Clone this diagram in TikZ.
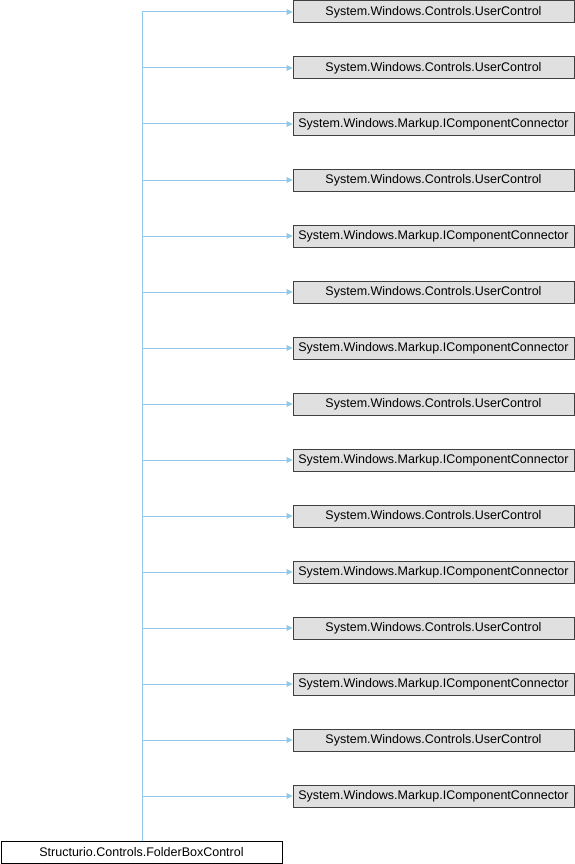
\documentclass[tikz,border=0pt]{standalone}
\usepackage{fontspec}
\setmainfont{Liberation Sans}
\usetikzlibrary{arrows.meta}
\definecolor{edgeblue}{RGB}{143,200,232}
\definecolor{boxgray}{RGB}{224,224,224}
\tikzset{
  base/.style={draw=black, line width=1pt, minimum width=281pt, minimum height=22pt, inner sep=0pt, font=\fontsize{12.5}{15}\selectfont, anchor=west},
  parentbox/.style={base, fill=boxgray, draw=black!75},
  childbox/.style={base, fill=white},
  edge/.style={draw=edgeblue, line width=1pt, -{Triangle[length=6pt,width=6pt]}}
}
\begin{document}
\begin{tikzpicture}[x=1pt,y=-1pt]
\useasboundingbox (0,0) rectangle (574,864);
\foreach \i/\t in {0/System.Windows.Controls.UserControl,
                   1/System.Windows.Controls.UserControl,
                   2/System.Windows.Markup.IComponentConnector,
                   3/System.Windows.Controls.UserControl,
                   4/System.Windows.Markup.IComponentConnector,
                   5/System.Windows.Controls.UserControl,
                   6/System.Windows.Markup.IComponentConnector,
                   7/System.Windows.Controls.UserControl,
                   8/System.Windows.Markup.IComponentConnector,
                   9/System.Windows.Controls.UserControl,
                   10/System.Windows.Markup.IComponentConnector,
                   11/System.Windows.Controls.UserControl,
                   12/System.Windows.Markup.IComponentConnector,
                   13/System.Windows.Controls.UserControl,
                   14/System.Windows.Markup.IComponentConnector} {
  \node[parentbox] (b\i) at (292.5, 12+56*\i) {\t};
}
\node[childbox] (child) at (0.5,852) {Structurio.Controls.FolderBoxControl};
\coordinate (trunk) at (142,841);
\foreach \i in {0,...,14} {
  \draw[edge] (trunk) |- (b\i.west);
}
\end{tikzpicture}
\end{document}
